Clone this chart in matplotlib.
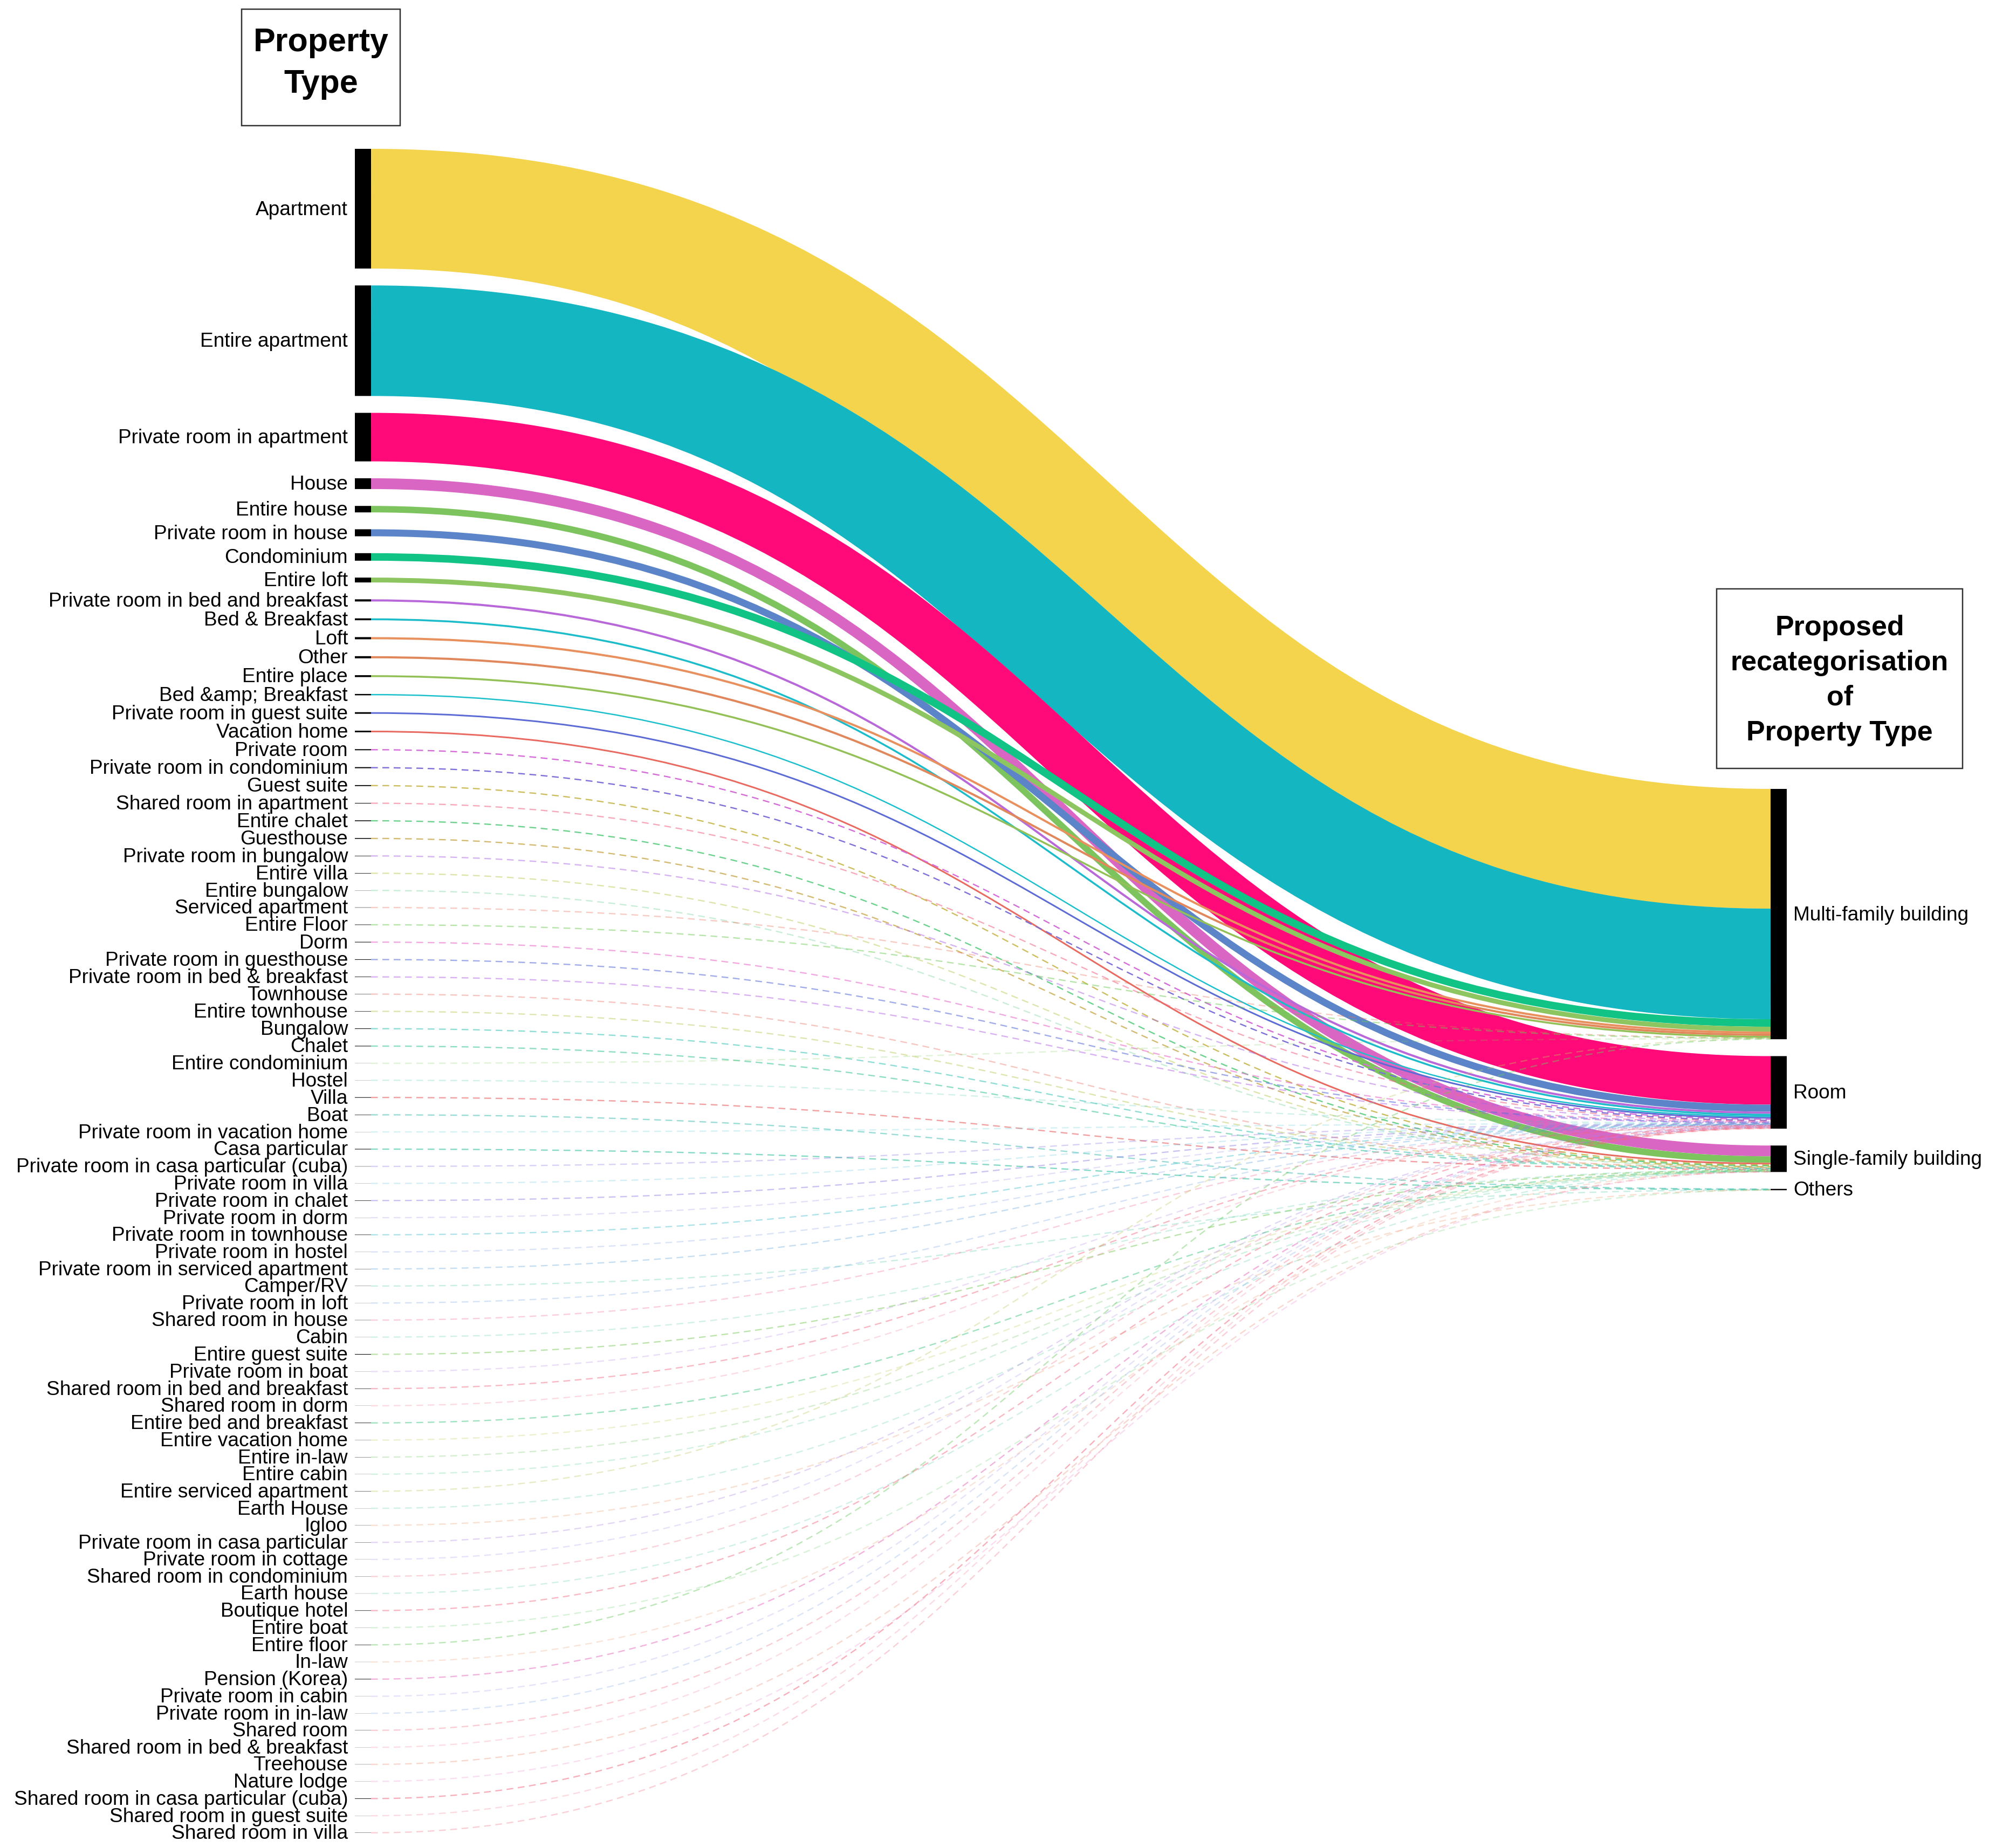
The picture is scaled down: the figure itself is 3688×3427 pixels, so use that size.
import numpy as np
import matplotlib.pyplot as plt
from matplotlib.path import Path
from matplotlib.patches import PathPatch, Rectangle

plt.rcParams['font.family'] = ['Liberation Sans', 'DejaVu Sans']
plt.rcParams['lines.scale_dashes'] = False

# left column: original property types (top to bottom)
property_types = [
    'Apartment', 'Entire apartment', 'Private room in apartment', 'House',
    'Entire house', 'Private room in house', 'Condominium', 'Entire loft',
    'Private room in bed and breakfast', 'Bed & Breakfast', 'Loft', 'Other',
    'Entire place', 'Bed &amp; Breakfast', 'Private room in guest suite',
    'Vacation home', 'Private room', 'Private room in condominium',
    'Guest suite', 'Shared room in apartment', 'Entire chalet', 'Guesthouse',
    'Private room in bungalow', 'Entire villa', 'Entire bungalow',
    'Serviced apartment', 'Entire Floor', 'Dorm', 'Private room in guesthouse',
    'Private room in bed & breakfast', 'Townhouse', 'Entire townhouse',
    'Bungalow', 'Chalet', 'Entire condominium', 'Hostel', 'Villa', 'Boat',
    'Private room in vacation home', 'Casa particular',
    'Private room in casa particular (cuba)', 'Private room in villa',
    'Private room in chalet', 'Private room in dorm',
    'Private room in townhouse', 'Private room in hostel',
    'Private room in serviced apartment', 'Camper/RV', 'Private room in loft',
    'Shared room in house', 'Cabin', 'Entire guest suite',
    'Private room in boat', 'Shared room in bed and breakfast',
    'Shared room in dorm', 'Entire bed and breakfast', 'Entire vacation home',
    'Entire in-law', 'Entire cabin', 'Entire serviced apartment',
    'Earth House', 'Igloo', 'Private room in casa particular',
    'Private room in cottage', 'Shared room in condominium', 'Earth house',
    'Boutique hotel', 'Entire boat', 'Entire floor', 'In-law',
    'Pension (Korea)', 'Private room in cabin', 'Private room in in-law',
    'Shared room', 'Shared room in bed & breakfast', 'Treehouse',
    'Nature lodge', 'Shared room in casa particular (cuba)',
    'Shared room in guest suite', 'Shared room in villa',
]

# relative size of each property type (estimated from the band widths)
share = [
    222, 205, 90, 20, 12, 13, 14, 9,
    4, 3.5, 4, 4, 3.5, 2.5, 3, 3,
    2, 2, 1.8, 1, 1.5, 1.5, 0.8, 0.8,
    0.3, 0.5, 0.8, 1, 1, 0.8, 0.5, 0.7,
    1, 1, 0.2, 0.2, 1, 0.7, 0.2, 1,
    0.4, 0.2, 0.7, 0.2, 0.7, 0.2, 0.4, 0.3,
    0.2, 0.4, 0.2, 1, 0.2, 0.7, 0.2, 0.8,
    0.3, 0.4, 0.2, 0.5, 0.2, 0.3, 0.4, 0.2,
    0.3, 0.2, 0.7, 0.2, 0.7, 0.2, 0.9, 0.2,
    0.2, 0.4, 0.2, 0.3, 0.2, 0.9, 0.2, 0.4,
]

# right column: proposed categories
categories = ['Multi-family building', 'Room', 'Single-family building', 'Others']

# index into categories for each property type
recat = [
    0, 0, 1, 2, 2, 1, 0, 0,
    1, 1, 0, 0, 0, 1, 1, 2,
    1, 1, 2, 1, 2, 2, 1, 2,
    2, 0, 0, 1, 1, 1, 2, 2,
    2, 2, 0, 1, 2, 3, 1, 3,
    1, 1, 1, 1, 1, 1, 1, 3,
    1, 1, 2, 2, 1, 1, 1, 2,
    2, 2, 2, 0, 2, 3, 1, 1,
    1, 2, 1, 3, 0, 2, 1, 1,
    1, 1, 1, 2, 2, 1, 1, 1,
]

link_colors = [
    '#F4D44D', '#14B6C2', '#FF0A78', '#DA66C4', '#7DC35E', '#5B85C8', '#12C386', '#8DC660',
    '#B868D8', '#1DBCCB', '#E8905E', '#E0885C', '#93C057', '#1CC0CC', '#5D6BD4', '#E86A60',
    '#D56BD8', '#7B6ED8', '#C8B850', '#F06A88', '#44C66E', '#C8A84C', '#A864E2', '#BCC852',
    '#3CC072', '#E8705A', '#6CCB52', '#E868C8', '#5A6ED8', '#B060E4', '#E86050', '#B8C44E',
    '#3CC4B8', '#3CC49C', '#7CCB5C', '#3CC4A8', '#E85A5A', '#1EB4A4', '#4CC4D4', '#2CC09C',
    '#8A70E0', '#4CB8D8', '#8A78E0', '#8A80E0', '#4CC0D0', '#6A88E0', '#4C98D8', '#3CC4A0',
    '#4C88D8', '#F06A90', '#3CC4A0', '#8CD070', '#A870E0', '#F0607A', '#F06A80', '#3CC480',
    '#C0C850', '#7CCB70', '#40C880', '#C0C860', '#3CC490', '#E89060', '#A880E0', '#9C80E8',
    '#F0607A', '#3CC4A0', '#F0607A', '#5CC860', '#6CCB60', '#E89060', '#E870C0', '#A080E8',
    '#6090E0', '#F0607A', '#F0708A', '#E87050', '#E870C0', '#F06A80', '#F06A80', '#F06A80',
]

W, H, dpi = 3688, 3427, 100
fig = plt.figure(figsize=(W / dpi, H / dpi), dpi=dpi)
ax = fig.add_axes([0, 0, 1, 1])
ax.set_xlim(0, W)
ax.set_ylim(H, 0)
ax.axis('off')

pt = 72.0 / dpi          # points per pixel
ky = 1.0                 # pixels per unit of share
pad = 31.3
node_w = 30
left_x, right_x = 658, 3283
left_top, right_top = 276, 1463
fs = 37 * pt

share = np.array(share, dtype=float)
recat = np.array(recat)
cat_size = np.array([share[recat == k].sum() for k in range(len(categories))])

left_y = left_top + np.concatenate([[0], np.cumsum(share[:-1] * ky + pad)])
right_y = right_top + np.concatenate([[0], np.cumsum(cat_size[:-1] * ky + pad)])

# links
xm = (left_x + node_w + right_x) / 2
offset = np.zeros(len(categories))
for i, name in enumerate(property_types):
    w = share[i] * ky
    t = recat[i]
    ys = left_y[i] + w / 2
    yt = right_y[t] + offset[t] + w / 2
    offset[t] += w
    path = Path([(left_x + node_w, ys), (xm, ys), (xm, yt), (right_x, yt)],
                [Path.MOVETO, Path.CURVE4, Path.CURVE4, Path.CURVE4])
    if w >= 2.2:
        patch = PathPatch(path, fill=False, edgecolor=link_colors[i],
                          lw=w * pt, capstyle='butt', zorder=2)
    else:
        patch = PathPatch(path, fill=False, edgecolor=link_colors[i],
                          lw=2.4 * pt, capstyle='butt', zorder=2,
                          alpha=min(1.0, 0.15 + w / 2.4),
                          linestyle=(0, (9 * pt * 1.4, 6 * pt * 1.4)))
    ax.add_patch(patch)

# left nodes + labels
for i, name in enumerate(property_types):
    h = share[i] * ky
    ax.add_patch(Rectangle((left_x, left_y[i]), node_w, h, facecolor='black',
                           edgecolor='none', snap=False, zorder=3))
    ax.text(left_x - 13, left_y[i] + h / 2 + 2, name, ha='right', va='center',
            fontsize=fs, color='black', zorder=4)

# right nodes + labels
for k, name in enumerate(categories):
    h = max(cat_size[k] * ky, 2.0)
    ax.add_patch(Rectangle((right_x, right_y[k]), node_w, h, facecolor='black',
                           edgecolor='none', snap=False, zorder=3))
    ax.text(right_x + node_w + 12, right_y[k] + h / 2 + 2, name, ha='left',
            va='center', fontsize=fs, color='black', zorder=4)

# column headers
ax.add_patch(Rectangle((448, 17), 294, 216, fill=False, edgecolor='#333333',
                       lw=2.5 * pt, zorder=5))
ax.text(595, 118, 'Property\nType', ha='center', va='center', fontsize=61 * pt,
        fontweight='bold', linespacing=1.45, zorder=5)

ax.add_patch(Rectangle((3183, 1092), 456, 333, fill=False, edgecolor='#333333',
                       lw=2.5 * pt, zorder=5))
ax.text(3411, 1262, 'Proposed\nrecategorisation\nof\nProperty Type', ha='center',
        va='center', fontsize=52 * pt, fontweight='bold', linespacing=1.42, zorder=5)

fig.savefig('out.png', dpi=dpi, facecolor='white')
